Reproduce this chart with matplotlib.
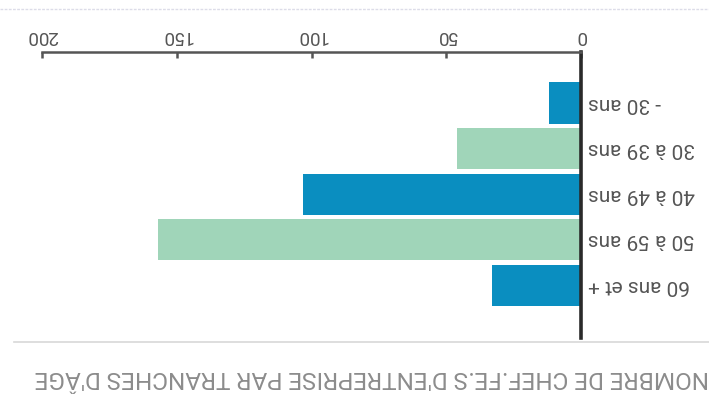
import matplotlib
matplotlib.use('Agg')
import matplotlib.pyplot as plt
import numpy as np

# tranches d'âge et effectifs
tranches = ['- 30 ans', '30 à 39 ans', '40 à 49 ans', '50 à 59 ans', '60 ans et +']
effectifs = [12, 46, 103, 157, 33]
graduations = [0, 50, 100, 150, 200]
titre = "NOMBRE DE CHEF.FE.S D'ENTREPRISE PAR TRANCHES D'ÂGE"

plt.rcParams['font.family'] = ['Roboto', 'DejaVu Sans']

bleu = '#0a8ec0'
vert = '#a0d5b9'
couleurs = [bleu, vert, bleu, vert, bleu]

W, H = 709, 394
fig = plt.figure(figsize=(W / 100, H / 100), dpi=100)
fig.patch.set_facecolor('white')

# le graphique est imprimé tête-bêche : zéro à droite, texte retourné
ax = fig.add_axes([42 / W, 1 - 338 / H, 539 / W, 286 / H])
y = np.arange(len(tranches))
ax.barh(y, effectifs, height=0.9, color=couleurs)

ax.set_xlim(200, 0)
ax.set_ylim(4 + 1.151, -1.118)

for s in ['left', 'bottom']:
    ax.spines[s].set_visible(False)
ax.spines['top'].set_color('#555555')
ax.spines['top'].set_linewidth(1.8)
ax.spines['right'].set_color('#2a2a2a')
ax.spines['right'].set_linewidth(2.6)

ax.xaxis.tick_top()
ax.set_xticks(graduations)
ax.set_xticklabels([str(g) for g in graduations], rotation=180,
                   fontsize=13.5, color='#555555')
ax.tick_params(axis='x', direction='in', length=4.5, width=1.8,
               color='#555555', pad=5)

ax.yaxis.tick_right()
ax.set_yticks(y)
ax.set_yticklabels(tranches, rotation=180, fontsize=15, color='#555555',
                   ha='left', va='center')
ax.tick_params(axis='y', length=0, pad=5)

# filets gris haut et bas
fig.add_artist(plt.Line2D([0, 1], [1 - 9 / H, 1 - 9 / H], color='#dcdce8',
                          lw=1, ls=(0, (2, 1))))
fig.add_artist(plt.Line2D([14 / W, 1], [1 - 342 / H, 1 - 342 / H],
                          color='#d8d8d8', lw=1.2))

t = fig.text(709 / W, 1 - 377 / H, titre, rotation=180, ha='right', va='center',
             fontsize=17, color='#8c8c8c')
# ajuste la taille du titre pour qu'il occupe x=32 jusqu'au bord droit
r = fig.canvas.get_renderer()
largeur = t.get_window_extent(r).width
t.set_fontsize(17 * 677 / largeur)

fig.savefig('out.png', dpi=100)
